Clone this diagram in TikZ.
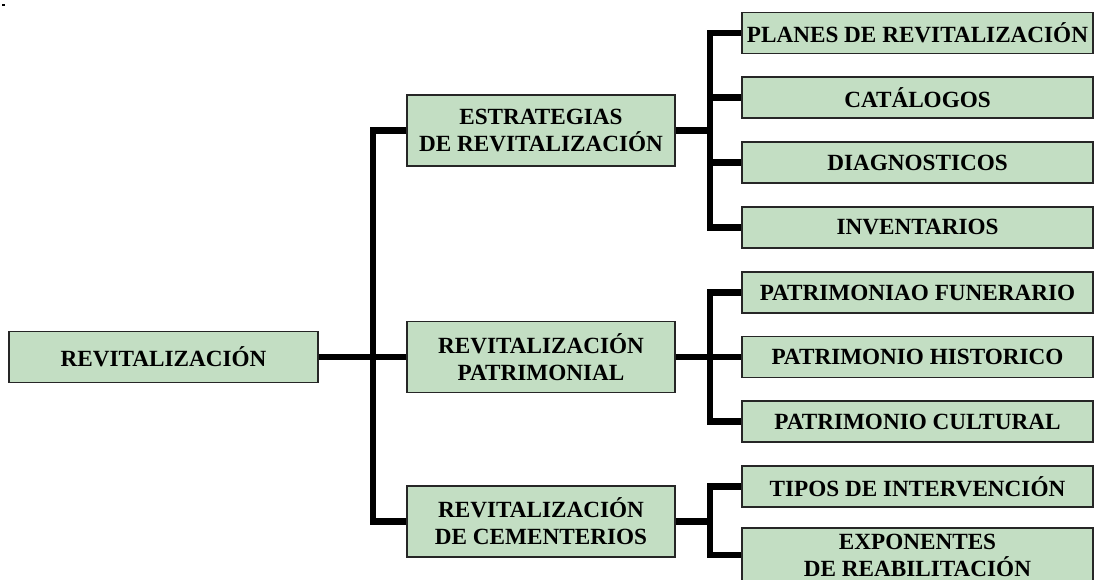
\documentclass[tikz,border=0pt]{standalone}
\usepackage{fontspec}
\setmainfont{Liberation Serif}
\usepackage{xcolor}
\usepackage{tikz}
\usetikzlibrary{positioning,calc}
\definecolor{boxgreen}{RGB}{195,222,195}

\begin{document}
\begin{tikzpicture}[
    box/.style={draw=black!85, line width=0.9pt, fill=boxgreen, inner sep=0pt, align=center,
        font=\bfseries\fontsize{16.5}{19.2}\selectfont},
    rootbox/.style={box, minimum width=7.725cm, minimum height=1.275cm},
    midbox/.style={box, minimum width=6.7cm, minimum height=1.775cm},
    leafbox/.style={box, minimum width=8.775cm, minimum height=1.025cm},
    link/.style={line width=4.3pt}
]
    \clip (0, 0) rectangle (27.35, 14.5);
    \fill (0.05, 14.35) rectangle (0.125, 14.4);
    \coordinate (busA) at (9.325, 0);
    \coordinate (busB) at (17.75, 0);

    % root and middle level
    \node [rootbox] (root) at (4.0875, 5.575) {REVITALIZACIÓN};
    \node [midbox] (estr) at (13.525, 11.2375) {ESTRATEGIAS\\DE REVITALIZACIÓN};
    \node [midbox] (patr) at (13.525, 5.575) {REVITALIZACIÓN\\PATRIMONIAL};
    \node [midbox] (cem) at (13.525, 1.4625) {REVITALIZACIÓN\\DE CEMENTERIOS};

    % leaves
    \node [leafbox] (planes) at (22.9375, 13.675) {PLANES DE REVITALIZACIÓN};
    \node [leafbox] (catal) at (22.9375, 12.0625) {CATÁLOGOS};
    \node [leafbox] (diagn) at (22.9375, 10.4375) {DIAGNOSTICOS};
    \node [leafbox] (invent) at (22.9375, 8.8125) {INVENTARIOS};
    \node [leafbox] (funer) at (22.9375, 7.1875) {PATRIMONIAO FUNERARIO};
    \node [leafbox] (hist) at (22.9375, 5.575) {PATRIMONIO HISTORICO};
    \node [leafbox] (cult) at (22.9375, 3.9625) {PATRIMONIO CULTURAL};
    \node [leafbox] (tipos) at (22.9375, 2.3375) {TIPOS DE INTERVENCIÓN};
    \node [leafbox, minimum height=1.35cm] (expo) at (22.9375, 0.625) {EXPONENTES\\DE REABILITACIÓN};

    % connectors
    \draw [link] (root.east) -- (patr.west);
    \draw [link] (estr.west) -- (estr.west -| busA) -- (cem.west -| busA) -- (cem.west);

    \draw [link] (estr.east) -- (estr.east -| busB);
    \draw [link] (planes.west) -- (planes.west -| busB) -- (invent.west -| busB) -- (invent.west);
    \foreach \n in {catal, diagn}
        \draw [link] (busB |- \n.west) -- (\n.west);

    \draw [link] (patr.east) -- (hist.west);
    \draw [link] (funer.west) -- (funer.west -| busB) -- (cult.west -| busB) -- (cult.west);

    \draw [link] (cem.east) -- (cem.east -| busB);
    \draw [link] (tipos.west) -- (tipos.west -| busB) -- (expo.west -| busB) -- (expo.west);
\end{tikzpicture}
\end{document}
